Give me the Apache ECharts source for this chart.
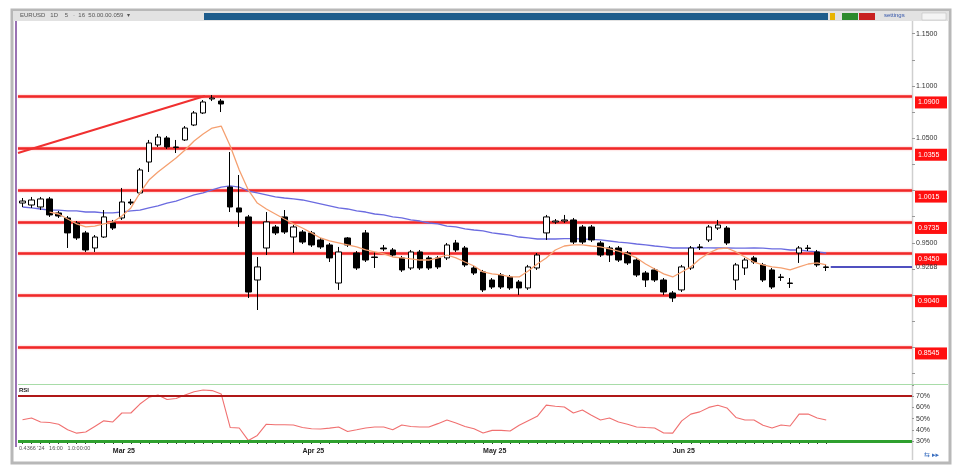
<!DOCTYPE html>
<html><head><meta charset="utf-8">
<script src="https://cdn.jsdelivr.net/npm/echarts@6/dist/echarts.min.js"></script>
<style>html,body{margin:0;padding:0;background:#fff}#c{width:960px;height:473px}</style>
</head><body><div id="c"></div>
<script>
// ---- data ----
// candles: [open, close, low, high]
const candles = [
[0.9881,0.9900,0.9843,0.9929],[0.9862,0.9910,0.9834,0.9939],[0.9843,0.9920,0.9814,0.9939],[0.9920,0.9767,0.9748,0.9939],
[0.9786,0.9757,0.9738,0.9805],[0.9738,0.9595,0.9451,0.9757],[0.9690,0.9547,0.9528,0.9709],[0.9595,0.9432,0.9413,0.9614],
[0.9451,0.9556,0.9413,0.9575],[0.9556,0.9748,0.9547,0.9814],[0.9690,0.9642,0.9623,0.9719],[0.9738,0.9891,0.9719,1.0025],
[0.9891,0.9881,0.9862,0.9920],[0.9977,1.0197,0.9958,1.0216],[1.0273,1.0455,1.0178,1.0484],[1.0436,1.0512,1.0417,1.0541],
[1.0503,1.0417,1.0398,1.0522],[1.0417,1.0412,1.0359,1.0484],[1.0484,1.0598,1.0474,1.0617],[1.0627,1.0742,1.0617,1.0761],
[1.0742,1.0847,1.0732,1.0866],[1.0876,1.0885,1.0856,1.0914],[1.0856,1.0828,1.0751,1.0876],[1.0034,0.9843,0.9795,1.0369],
[0.9834,0.9795,0.9652,1.0149],[0.9748,0.9030,0.8973,0.9767],[0.9145,0.9270,0.8858,0.9365],[0.9451,0.9700,0.9384,0.9795],
[0.9652,0.9595,0.9575,0.9671],[0.9748,0.9604,0.9585,0.9814],[0.9556,0.9652,0.9403,0.9671],[0.9604,0.9508,0.9489,0.9623],
[0.9595,0.9480,0.9461,0.9614],[0.9528,0.9461,0.9442,0.9547],[0.9480,0.9356,0.9317,0.9499],[0.9116,0.9413,0.9050,0.9461],
[0.9547,0.9480,0.9461,0.9556],[0.9403,0.9260,0.9241,0.9422],[0.9595,0.9336,0.9317,0.9623],[0.9365,0.9360,0.9260,0.9413],
[0.9451,0.9442,0.9422,0.9480],[0.9432,0.9384,0.9365,0.9451],[0.9356,0.9241,0.9222,0.9375],[0.9260,0.9413,0.9241,0.9432],
[0.9413,0.9260,0.9241,0.9432],[0.9356,0.9260,0.9241,0.9375],[0.9356,0.9270,0.9250,0.9375],[0.9356,0.9480,0.9336,0.9499],
[0.9499,0.9432,0.9413,0.9528],[0.9451,0.9289,0.9270,0.9470],[0.9260,0.9212,0.9193,0.9279],[0.9222,0.9050,0.9030,0.9241],
[0.9145,0.9078,0.9059,0.9164],[0.9193,0.9078,0.9059,0.9212],[0.9174,0.9069,0.9050,0.9193],[0.9126,0.9069,0.9002,0.9145],
[0.9069,0.9270,0.9050,0.9289],[0.9260,0.9384,0.9241,0.9403],[0.9595,0.9748,0.9528,0.9767],[0.9700,0.9709,0.9681,0.9728],
[0.9709,0.9719,0.9690,0.9767],[0.9719,0.9508,0.9489,0.9738],[0.9652,0.9508,0.9489,0.9671],[0.9652,0.9528,0.9508,0.9671],
[0.9499,0.9384,0.9365,0.9518],[0.9451,0.9384,0.9317,0.9470],[0.9451,0.9336,0.9317,0.9470],[0.9403,0.9308,0.9289,0.9422],
[0.9336,0.9193,0.9174,0.9356],[0.9212,0.9145,0.9078,0.9231],[0.9241,0.9145,0.9126,0.9260],[0.9145,0.9030,0.9002,0.9164],
[0.9021,0.8973,0.8935,0.9040],[0.9050,0.9270,0.9030,0.9289],[0.9260,0.9451,0.9241,0.9470],[0.9461,0.9456,0.9432,0.9489],
[0.9528,0.9652,0.9508,0.9671],[0.9642,0.9671,0.9623,0.9719],[0.9642,0.9499,0.9480,0.9661],[0.9145,0.9289,0.9050,0.9308],
[0.9260,0.9336,0.9193,0.9356],[0.9356,0.9317,0.9298,0.9375],[0.9289,0.9145,0.9126,0.9308],[0.9241,0.9078,0.9059,0.9260],
[0.9174,0.9169,0.9136,0.9203],[0.9116,0.9112,0.9069,0.9164],[0.9403,0.9451,0.9308,0.9470],[0.9451,0.9446,0.9422,0.9480],
[0.9413,0.9289,0.9270,0.9432],[0.9270,0.9265,0.9231,0.9298]
];
const maFast = [null,null,null,
0.9795,0.9776,0.9728,0.9681,0.9652,0.9661,0.9681,0.9700,0.9757,0.9834,0.9977,1.0101,1.0178,1.0245,1.0312,1.0388,1.0474,
1.0541,1.0598,1.0617,1.0426,1.0197,1.0006,0.9881,0.9824,0.9776,0.9728,0.9681,0.9642,0.9595,0.9547,0.9518,0.9499,0.9480,
0.9461,0.9432,0.9413,0.9394,0.9365,0.9356,0.9346,0.9336,0.9336,0.9356,0.9384,0.9356,0.9317,0.9279,0.9222,0.9203,0.9193,
0.9174,0.9174,0.9231,0.9298,0.9356,0.9432,0.9470,0.9480,0.9480,0.9470,0.9461,0.9442,0.9422,0.9394,0.9356,0.9298,0.9250,
0.9203,0.9174,0.9222,0.9270,0.9346,0.9403,0.9442,0.9451,0.9413,0.9365,0.9317,0.9289,0.9270,0.9260,0.9241,0.9270,0.9298,
0.9308,0.9289];
const maSlow = [
0.9843,0.9834,0.9824,0.9814,0.9814,0.9805,0.9805,0.9795,0.9795,0.9786,0.9786,0.9795,0.9805,0.9814,0.9834,0.9853,0.9881,
0.9900,0.9929,0.9958,0.9977,1.0006,1.0034,1.0044,1.0034,0.9996,0.9977,0.9958,0.9939,0.9929,0.9920,0.9910,0.9891,0.9872,
0.9853,0.9834,0.9824,0.9805,0.9795,0.9776,0.9767,0.9748,0.9738,0.9719,0.9709,0.9690,0.9681,0.9661,0.9652,0.9633,0.9623,
0.9614,0.9595,0.9585,0.9575,0.9556,0.9547,0.9537,0.9537,0.9537,0.9540,0.9540,0.9537,0.9533,0.9528,0.9518,0.9508,0.9499,
0.9489,0.9480,0.9470,0.9461,0.9451,0.9451,0.9451,0.9453,0.9453,0.9451,0.9451,0.9449,0.9449,0.9451,0.9449,0.9442,0.9442,
0.9432,0.9432,0.9422,0.9413,0.9403];
const rsi = [
49,50.5,47,46.5,45,40,37,38,43,48,47,55,55,63,69,71,67,68,71,74,75.5,75,72,42,41.6,30.5,35,45,44.5,44.5,
44.3,42,41,40.7,41.5,42.5,38.5,40,41.6,42.5,42.5,40,44.3,43,42.5,42.5,45.5,48.8,46,43,41,37.1,39.5,39.5,38.9,
44,48,52,62,61,60.4,55,57.7,53,48.8,50.5,47,45,42.5,42,41.6,37.1,37,48,54,56,60,62,59.5,51,48.8,48.8,44,41.6,
44.3,43.4,54,54.1,50.5,48.8];
const levels = [1.0900,1.0355,1.0015,0.9735,0.9450,0.9040,0.8545];
const levelText = ['1.0900','1.0355','1.0015','0.9735','0.9450','0.9040','0.8545'];
const trendLine = [[-0.5,1.0359],[20.2,1.0904]];
const lastPrice = 0.9270;
const lastPriceText = '0.9268';
const monthTicks = {10:'Mar 25',31:'Apr 25',51:'May 25',72:'Jun 25'};
const rsiLevels = {over:70, under:30};
const SLOTS = 99;
const cats = Array.from({length:SLOTS},(_,i)=>'d'+i);

const FONT = 'Liberation Sans, Arial, sans-serif';
const GL = 18, GR = 48;

// axis labels sitting right under a level box are hidden, as in the original
function priceLabel(v){
  if (Math.abs(v*20-Math.round(v*20))>1e-6) return '';
  for (const l of levels){ if (v-l <= 0.0002 && l-v < 0.006) return ''; }
  return v.toFixed(4);
}

const chart = echarts.init(document.getElementById('c'), null, {renderer:'canvas'});
const option = {
  animation:false,
  backgroundColor:'#ffffff',
  textStyle:{fontFamily:FONT},
  grid:[
    {left:GL, right:GR, top:33.7, height:339.9},
    {left:GL, right:GR, top:385, height:56}
  ],
  xAxis:[
    {type:'category', gridIndex:0, data:cats, boundaryGap:true, show:false},
    {type:'category', gridIndex:1, data:cats, boundaryGap:true,
      axisLine:{show:false, onZero:false},
      axisTick:{show:true, length:3, alignWithLabel:true, interval:(i)=>i<90, lineStyle:{color:'#333',width:1}},
      axisLabel:{interval:0, margin:7, fontSize:7, fontWeight:'bold', color:'#222', align:'left',
        formatter:(v,i)=>monthTicks[i]||''}},
    {type:'value', gridIndex:0, min:-0.5, max:SLOTS-0.5, show:false, axisLine:{onZero:false}}
  ],
  yAxis:[
    {type:'value', gridIndex:0, position:'right', min:0.825, max:1.15, interval:0.025,
      splitLine:{show:false}, axisLine:{show:false, onZero:false},
      axisTick:{show:true, inside:false, length:3, lineStyle:{color:'#999'}},
      axisLabel:{fontSize:7, color:'#333', margin:4, formatter:priceLabel}},
    {type:'value', gridIndex:1, position:'right', min:30, max:80, interval:10,
      splitLine:{show:false}, axisLine:{show:false, onZero:false},
      axisTick:{show:true, length:2, lineStyle:{color:'#999'}},
      axisLabel:{fontSize:7, color:'#333', margin:4, formatter:(v)=>v>=80?'':v+'%'}}
  ],
  series:[
    {type:'line', xAxisIndex:0, yAxisIndex:0, data:maSlow, symbol:'none', smooth:false,
      lineStyle:{color:'#6b6be0', width:1.3}, z:3},
    {type:'candlestick', xAxisIndex:0, yAxisIndex:0, data:candles, barWidth:6,
      itemStyle:{color:'#ffffff', color0:'#000000', borderColor:'#000000', borderColor0:'#000000', borderWidth:1},
      z:4,
      markLine:{silent:true, symbol:['none','none'], z:2,
        lineStyle:{color:'#f02828', width:2.5, type:'solid', shadowColor:'rgba(255,60,60,0.5)', shadowBlur:2},
        label:{show:true, position:'end', distance:3, offset:[0,6], color:'#ffffff', fontSize:7, backgroundColor:'#ff1010',
          padding:[3,3,2,3], width:26, formatter:(p)=>levelText[p.dataIndex]},
        data:levels.map(v=>({yAxis:v}))}},
    {type:'line', xAxisIndex:0, yAxisIndex:0, data:maFast, symbol:'none',
      lineStyle:{color:'#f5a070', width:1.3}, z:5},
    {type:'line', xAxisIndex:2, yAxisIndex:0, data:trendLine, symbol:'none',
      lineStyle:{color:'#f03030', width:2}, z:3},
    {type:'line', xAxisIndex:2, yAxisIndex:0, data:[[89.5,lastPrice],[SLOTS-0.5,lastPrice]], symbol:'none',
      lineStyle:{color:'#5050c0', width:2}, z:3,
      endLabel:{show:true, formatter:()=>lastPriceText, fontSize:7, color:'#333', distance:4}},
    {type:'line', xAxisIndex:1, yAxisIndex:1, data:rsi, symbol:'none',
      lineStyle:{color:'#f07070', width:1.1}, z:4,
      markLine:{silent:true, symbol:['none','none'], label:{show:false},
        data:[
          {yAxis:rsiLevels.over, lineStyle:{color:'#b01818', width:2, type:'solid'}},
          {yAxis:rsiLevels.under, lineStyle:{color:'#2ea02e', width:3, type:'solid'}}
        ]}}
  ],
  graphic:[
    {type:'rect', shape:{x:12,y:10,width:938,height:453}, style:{fill:'none', stroke:'#b8b8b8', lineWidth:3}, z:-1},
    {type:'rect', shape:{x:13,y:11,width:936,height:10}, style:{fill:'#e2e2e2'}, z:-1},
    {type:'rect', shape:{x:204,y:13,width:624,height:7}, style:{fill:'#1d5c8c'}, z:0},
    {type:'text', x:20, y:12.5, style:{text:'EURUSD   1D    5   ·  16  50.00.00.059  ▾', fontSize:6, fill:'#555', fontFamily:FONT}},
    {type:'rect', shape:{x:830,y:13,width:5,height:7}, style:{fill:'#e8b400'}},
    {type:'rect', shape:{x:842,y:13,width:16,height:7}, style:{fill:'#2c8a2c'}},
    {type:'rect', shape:{x:859,y:13,width:16,height:7}, style:{fill:'#c82020'}},
    {type:'text', x:884, y:12.5, style:{text:'settings', fontSize:6, fill:'#3355aa', fontFamily:FONT}},
    {type:'rect', shape:{x:922,y:13,width:24,height:7}, style:{fill:'#f4f4f4', stroke:'#bbb', lineWidth:0.5}},
    {type:'line', shape:{x1:16,y1:21,x2:16,y2:447}, style:{stroke:'#9a72b4', lineWidth:2}},
    {type:'line', shape:{x1:912.5,y1:21,x2:912.5,y2:460}, style:{stroke:'#cfcfcf', lineWidth:1.5}},
    {type:'line', shape:{x1:18,y1:384.5,x2:948,y2:384.5}, style:{stroke:'#a8dca8', lineWidth:1.2}},
    {type:'text', x:19, y:387, style:{text:'RSI', fontSize:6, fontWeight:'bold', fill:'#222', fontFamily:FONT}},
    {type:'text', x:19, y:445, style:{text:'0.4366 \'24   16:00   1.0:00:00', fontSize:5.5, fill:'#555', fontFamily:FONT}},
    {type:'text', x:924, y:452, style:{text:'⇆ ▸▸', fontSize:7, fill:'#3a6fc0', fontFamily:'DejaVu Sans'}}
  ]
};
chart.setOption(option);
</script></body></html>
